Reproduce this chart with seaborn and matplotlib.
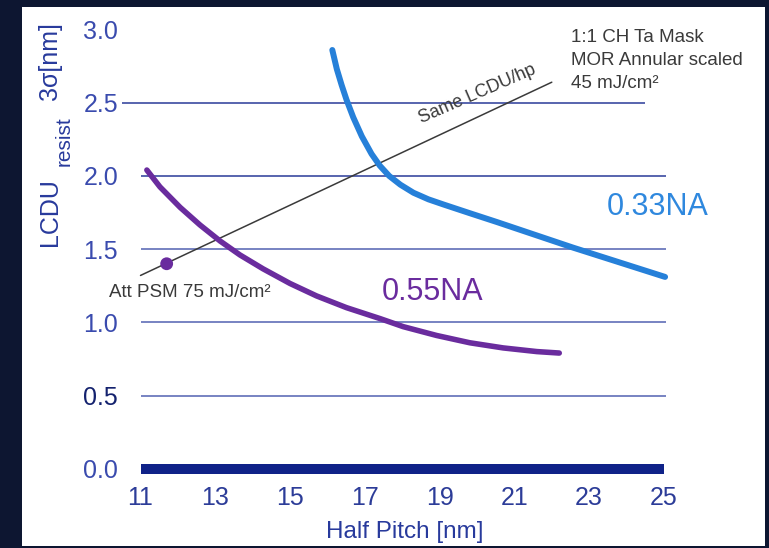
import matplotlib
matplotlib.use("Agg")
import matplotlib.pyplot as plt
import seaborn as sns
import pandas as pd
from matplotlib.patches import Rectangle

# ---- data -----------------------------------------------------------------
half_pitch_033 = [16.13, 16.25, 16.38, 16.51, 16.69, 16.92, 17.18, 17.40, 17.65,
                  17.95, 18.30, 18.70, 19.10, 19.81, 20.53, 22.57, 25.03]
lcdu_033 = [2.86, 2.73, 2.62, 2.52, 2.40, 2.27, 2.15, 2.07, 2.00,
            1.94, 1.885, 1.84, 1.805, 1.745, 1.685, 1.51, 1.31]

half_pitch_055 = [11.17, 11.52, 12.06, 12.59, 13.13, 13.66, 14.28, 15.00, 15.71,
                  16.51, 17.41, 18.03, 18.92, 19.81, 20.70, 21.60, 22.20]
lcdu_055 = [2.04, 1.925, 1.785, 1.665, 1.555, 1.46, 1.365, 1.265, 1.18,
            1.10, 1.025, 0.97, 0.91, 0.86, 0.825, 0.80, 0.79]

same_ratio_hp = [11.0, 22.0]
same_ratio_lcdu = [1.32, 2.64]

att_psm_hp = [11.7]
att_psm_lcdu = [1.40]

x_ticks = [11, 13, 15, 17, 19, 21, 23, 25]
y_ticks = [0.0, 0.5, 1.0, 1.5, 2.0, 2.5, 3.0]
y_tick_labels = ["0.0", "0.5", "1.0", "1.5", "2.0", "2.5", "3.0"]

# ---- style ----------------------------------------------------------------
sns.set_style("white")
plt.rcParams["font.family"] = ["Liberation Sans", "DejaVu Sans"]

W, H = 769, 548
BG = "#0d1631"
BLUE = "#2680d9"
PURPLE = "#6a2c9e"
NAVY = "#0f2288"
TICK_BLUE = "#3a4bae"
LABEL_BLUE = "#283a9c"
GREY_TXT = "#3a3a3a"


def fx(px):
    return px / W


def fy(py):
    return 1 - py / H


fig = plt.figure(figsize=(W / 100, H / 100), dpi=100, facecolor=BG)
fig.patches.append(Rectangle((fx(22), fy(546)), (765 - 22) / W, (546 - 7) / H,
                             transform=fig.transFigure, facecolor="white",
                             edgecolor="none", zorder=-10))

# axes placement: x=11 at 140.5 px, 37.39 px per nm; y=0 at 468.7 px, 146.4 px per nm
ax_left, ax_right, ax_bottom, ax_top = 121.5, 720.0, 478.0, 10.0
ax = fig.add_axes([fx(ax_left), fy(ax_bottom), (ax_right - ax_left) / W,
                   (ax_bottom - ax_top) / H])
ax.set_zorder(1)
ax.set_facecolor("none")
x0_px, x_scale = 140.5, 37.39
y0_px, y_scale = 468.7, 146.4
ax.set_xlim(11 + (ax_left - x0_px) / x_scale, 11 + (ax_right - x0_px) / x_scale)
ax.set_ylim(-(ax_bottom - y0_px) / y_scale, (y0_px - ax_top) / y_scale)

# horizontal guide lines
ax.hlines([0.5, 1.0, 1.5], 11.0, 25.06, color="#5262b2", lw=1.1, zorder=1)
ax.hlines([2.0], 11.0, 25.06, color="#2a3a98", lw=1.1, zorder=1)
ax.hlines([2.5], 10.5, 24.5, color="#2a3a98", lw=1.1, zorder=1)
ax.hlines([0.0], 11.0, 25.0, color=NAVY, lw=7.2, zorder=2)

# curves
df33 = pd.DataFrame({"hp": half_pitch_033, "lcdu": lcdu_033})
df55 = pd.DataFrame({"hp": half_pitch_055, "lcdu": lcdu_055})
dfr = pd.DataFrame({"hp": same_ratio_hp, "lcdu": same_ratio_lcdu})
sns.lineplot(data=dfr, x="hp", y="lcdu", color="#3a3a3a", lw=1.1, sort=False,
             ax=ax, zorder=3)
sns.lineplot(data=df55, x="hp", y="lcdu", color=PURPLE, lw=4.0, sort=False,
             ax=ax, zorder=4, solid_capstyle="round", solid_joinstyle="round")
sns.lineplot(data=df33, x="hp", y="lcdu", color=BLUE, lw=4.3, sort=False,
             ax=ax, zorder=4, solid_capstyle="round", solid_joinstyle="round")
sns.scatterplot(x=att_psm_hp, y=att_psm_lcdu, color=PURPLE, s=85,
                edgecolor="none", ax=ax, zorder=5)

# ticks
ax.set_xticks(x_ticks)
ax.set_xticklabels([str(t) for t in x_ticks])
ax.set_yticks(y_ticks)
ax.set_yticklabels(y_tick_labels)
ax.tick_params(axis="both", length=0, labelsize=18)
ax.tick_params(axis="x", pad=6, labelcolor="#2c3c98")
ax.tick_params(axis="y", pad=2.5, labelcolor=TICK_BLUE)
for lab in ax.get_yticklabels():
    if lab.get_text() == "0.5":
        lab.set_color("#14226e")
for s in ax.spines.values():
    s.set_visible(False)
ax.grid(False)
ax.set_xlabel("")
ax.set_ylabel("")

# axis titles
fig.text(fx(405), fy(538), "Half Pitch [nm]", ha="center", va="baseline",
         fontsize=17.5, color=LABEL_BLUE)
fig.text(fx(57), fy(212.5), "LCDU", rotation=90, rotation_mode="anchor",
         ha="center", va="baseline", fontsize=18, color=LABEL_BLUE)
fig.text(fx(70), fy(141.5), "resist", rotation=90, rotation_mode="anchor",
         ha="center", va="baseline", fontsize=15, color=LABEL_BLUE)
fig.text(fx(57), fy(61), "3σ[nm]", rotation=90, rotation_mode="anchor",
         ha="center", va="baseline", fontsize=18, color=LABEL_BLUE)

# annotations
fig.text(fx(607), fy(215), "0.33NA", ha="left", va="baseline", fontsize=22,
         color="#2f88de")
fig.text(fx(382), fy(300), "0.55NA", ha="left", va="baseline", fontsize=22,
         color=PURPLE)
fig.text(fx(109), fy(297), "Att PSM 75 mJ/cm²", ha="left", va="baseline",
         fontsize=13.5, color=GREY_TXT)
for text, base in [("1:1 CH Ta Mask", 41.7), ("MOR Annular scaled", 65),
                   ("45 mJ/cm²", 88.3)]:
    fig.text(fx(571), fy(base), text, ha="left", va="baseline", fontsize=13.5,
             color=GREY_TXT)
fig.text(fx(477), fy(94), "Same LCDU/hp", rotation=23.5, rotation_mode="anchor",
         ha="center", va="center", fontsize=13, color=GREY_TXT)

fig.savefig("out.png", dpi=100, facecolor=fig.get_facecolor())
